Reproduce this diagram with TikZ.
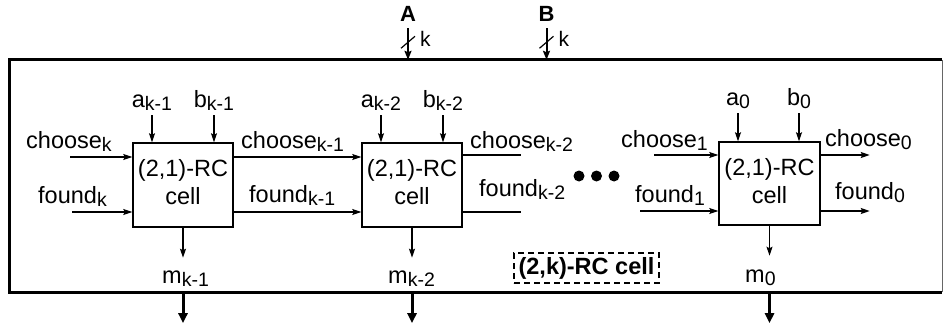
\documentclass[tikz,border=0pt]{standalone}
\usepackage{fontspec}
\setmainfont{Liberation Sans}
\usetikzlibrary{arrows.meta}
\newcommand\lo[1]{\raisebox{-3pt}{\fontsize{19.5}{20}\selectfont #1}}
\newcommand\celltext{\raisebox{1.5pt}{\begin{tabular}{@{}c@{}}(2,1)-RC\\cell\end{tabular}}}
\begin{document}
\begin{tikzpicture}[x=1pt,y=-1pt,
  every node/.style={font=\fontsize{23.5}{28}\selectfont, inner sep=0pt},
  lbl/.style={anchor=base west},
  lblc/.style={anchor=base},
  cellbox/.style={draw, line width=1.4pt, minimum width=100pt, minimum height=84pt},
  sig/.style={line width=1.2pt, -{Stealth[length=9pt,width=6pt,inset=1.5pt]}},
  wire/.style={line width=1.2pt},
  bus/.style={line width=3pt, -{Triangle[length=10pt,width=9pt]}},
  topbus/.style={line width=2pt, -{Stealth[length=9pt,width=7pt,inset=1.5pt]}},
  sidebold/.style={line width=3pt},
  ttl/.style={font=\fontsize{22}{24}\selectfont\bfseries},
  klbl/.style={anchor=base west, font=\fontsize{21}{22}\selectfont},
  dot/.style={circle, fill, minimum size=11pt},
]
\useasboundingbox (0,0) rectangle (944,329);

% outer (2,k)-RC cell
\node[minimum width=932pt, minimum height=232pt] (chip) at (476,176) {};
\draw[sidebold] (chip.north east) -- (chip.north west) -- (chip.south west) -- (chip.south east);
\draw[line width=1pt, black!60] (chip.north east) -- (chip.south east);

% cells
\node[cellbox] (c1) at (183,185) {\celltext};
\node[cellbox] (c2) at (412,185) {\celltext};
\node[cellbox, minimum width=101pt, minimum height=83pt] (c3) at (769.5,183.5) {\celltext};

% top inputs
\node[ttl] (A) at (408,13.5) {A};
\node[ttl] (B) at (546.5,13.5) {B};
\draw[topbus] ([yshift=-7pt]A.south) -- (A.south |- chip.north);
\draw[topbus] ([yshift=-7pt]B.south) -- (B.south |- chip.north);
\path (A.south) ++(0,21) coordinate (sA);
\path (B.south) ++(0,21) coordinate (sB);
\draw[line width=1.2pt] (sA) ++(-7,6) -- ++(14,-12);
\draw[line width=1.2pt] (sB) ++(-7,6) -- ++(14,-12);
\node[klbl] (kA) at (420,47) {k};
\node[klbl] (kB) at (558.5,47) {k};

% a/b labels and arrows
\node[lblc] (la1) at (152,107) {a\lo{k-1}};
\node[lblc] (lb1) at (214,107) {b\lo{k-1}};
\node[lblc] (la2) at (381,107) {a\lo{k-2}};
\node[lblc] (lb2) at (443,107) {b\lo{k-2}};
\node[lblc] (la3) at (738,105) {a\lo{0}};
\node[lblc] (lb3) at (799,105) {b\lo{0}};
\draw[sig] ([yshift=-5pt]la1.south) -- (la1.south |- c1.north);
\draw[sig] ([yshift=-5pt]lb1.south) -- (lb1.south |- c1.north);
\draw[sig] ([yshift=-5pt]la2.south) -- (la2.south |- c2.north);
\draw[sig] ([yshift=-5pt]lb2.south) -- (lb2.south |- c2.north);
\draw[sig] ([yshift=-5pt]la3.south) -- (la3.south |- c3.north);
\draw[sig] ([yshift=-5pt]lb3.south) -- (lb3.south |- c3.north);

% choose / found labels
\node[lbl] (ck)  at (26,148)  {choose\lo{k}};
\node[lbl] (ck1) at (241,148) {choose\lo{k-1}};
\node[lbl] (ck2) at (470,148) {choose\lo{k-2}};
\node[lbl] (c1l) at (621,147) {choose\lo{1}};
\node[lbl] (c0l) at (825,146) {choose\lo{0}};
\node[lbl] (fk)  at (38,203)  {found\lo{k}};
\node[lbl] (fk1) at (249,202) {found\lo{k-1}};
\node[lbl] (fk2) at (479,196) {found\lo{k-2}};
\node[lbl] (f1l) at (635,202) {found\lo{1}};
\node[lbl] (f0l) at (835,199) {found\lo{0}};

% horizontal signals
\coordinate (ckin) at (70,157);
\coordinate (fkin) at (72,212);
\draw[sig] (ckin) -- (ckin -| c1.west);
\draw[sig] (fkin) -- (fkin -| c1.west);
\draw[sig] ([yshift=28pt]c1.east) -- ([yshift=28pt]c2.west);
\draw[sig] ([yshift=-27pt]c1.east) -- ([yshift=-27pt]c2.west);
\draw[wire] ([yshift=30pt]c2.east) -- ++(58,0);
\draw[wire] ([yshift=-27pt]c2.east) -- ++(58,0);
\coordinate (c3cin) at (654,155);
\coordinate (c3fin) at (640,211);
\draw[sig] (c3cin) -- (c3cin -| c3.west);
\draw[sig] (c3fin) -- (c3fin -| c3.west);
\draw[sig] ([yshift=28.5pt]c3.east) -- ++(49,0);
\draw[sig] ([yshift=-27.5pt]c3.east) -- ++(49,0);

% dots
\node[dot] (d1) at (579,176) {};
\node[dot] (d2) at (596.5,176) {};
\node[dot] (d3) at (614,176) {};

% m outputs
\draw[sig] (c1.south) -- ++(0,30);
\draw[sig] (c2.south) -- ++(0,30);
\draw[sig] (c3.south) -- ++(0,30);
\node[lbl] (m1) at (162,283) {m\lo{k-1}};
\node[lbl] (m2) at (388,283) {m\lo{k-2}};
\node[lbl] (m0) at (745,282) {m\lo{0}};
\draw[bus] (c1.south |- chip.south) -- ++(0,31);
\draw[bus] (c2.south |- chip.south) -- ++(0,31);
\draw[bus] (c3.south |- chip.south) -- ++(0,31);

% label
\node[draw, dashed, dash pattern=on 6pt off 4pt, line width=1.2pt, font=\fontsize{23.5}{28}\selectfont\bfseries,
  minimum width=145pt, minimum height=30pt] (rc) at (586.5,268) {(2,k)-RC cell};
\end{tikzpicture}
\end{document}
